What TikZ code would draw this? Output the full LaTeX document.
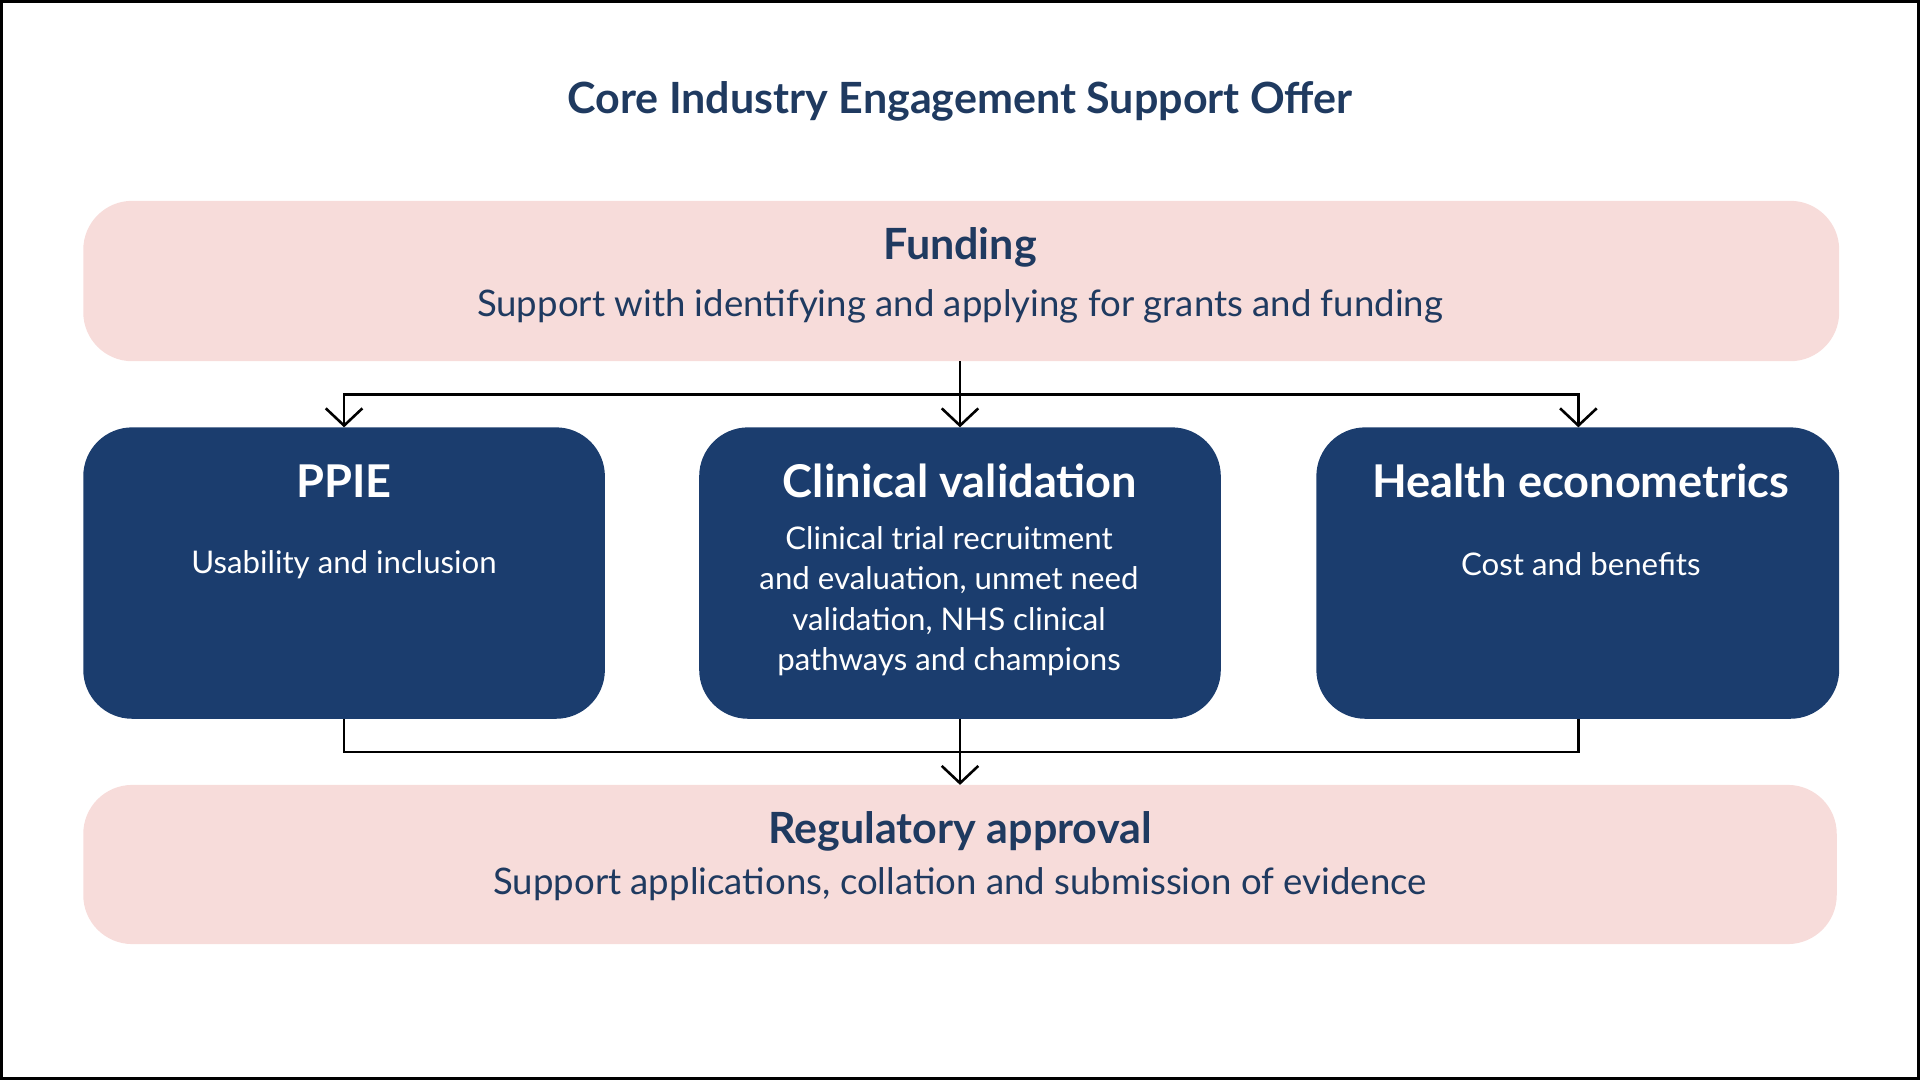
\documentclass[tikz,border=0pt]{standalone}
\usepackage{fontspec}
\setmainfont{Lato}
\usetikzlibrary{arrows.meta}
\definecolor{navy}{HTML}{1B3D6E}
\definecolor{titlec}{HTML}{1F3A60}
\definecolor{pink}{HTML}{F7DCDA}
\begin{document}
\begin{tikzpicture}[x=0.02cm,y=-0.02cm,
  pinkbox/.style={fill=pink,draw=none,rounded corners=0.8cm},
  bluebox/.style={fill=navy,draw=none,rounded corners=0.8cm},
  conn/.style={line width=1.2pt,black},
  arr/.style={conn,-{Straight Barb[length=8pt,width=17pt,line width=1.2pt]}},
  bh/.style={text=white,font=\bfseries\fontsize{21}{25}\selectfont},
  bt/.style={text=white,font=\fontsize{14.5}{18.7}\selectfont,align=center}]
\useasboundingbox (0,0) rectangle (1568,882);
\draw[line width=2pt] (1,1) rectangle (1567,881);
\node[text=titlec,font=\bfseries\fontsize{20}{24}\selectfont] (title) at (784,83) {Core Industry Engagement Support Offer};
\path[pinkbox] (68,164) rectangle (1502,295);
\node[text=titlec,font=\bfseries\fontsize{20}{24}\selectfont] (fund) at (784,202) {Funding};
\node[text=titlec,font=\fontsize{17}{20}\selectfont] (fundt) at (784,250) {Support with identifying and applying for grants and funding};
\coordinate (fb) at (784,295);
\path[bluebox] (68,349) rectangle (494,587);
\path[bluebox] (571,349) rectangle (997,587);
\path[bluebox] (1075,349) rectangle (1502,587);
\coordinate (p1) at (281,349); \coordinate (p2) at (784,349); \coordinate (p3) at (1289,349);
\coordinate (q1) at (281,587); \coordinate (q2) at (784,587); \coordinate (q3) at (1289,587);
\node[bh] (h1) at (281,393) {PPIE};
\node[bh] (h2) at (784,393) {Clinical validation};
\node[bh] (h3) at (1291,393) {Health econometrics};
\node[bt] (t1) at (281,461) {Usability and inclusion};
\node[bt] (t2) at (775,491) {Clinical trial recruitment\\and evaluation, unmet need\\validation, NHS clinical\\pathways and champions};
\node[bt] (t3) at (1291,461) {Cost and benefits};
\path[pinkbox] (68,641) rectangle (1500,771);
\coordinate (rt) at (784,641);
\node[text=titlec,font=\bfseries\fontsize{20}{24}\selectfont] (reg) at (784,679) {Regulatory approval};
\node[text=titlec,font=\fontsize{17}{20}\selectfont] (regt) at (784,722) {Support applications, collation and submission of evidence};
\draw[arr] (fb) -- (p2);
\draw[conn] (281,322) -- (1289,322);
\draw[arr] (281,321) -- (p1);
\draw[arr] (1289,321) -- (p3);
\draw[conn] (q1) -- (281,614) -- (1289,614) -- (q3);
\draw[arr] (q2) -- (rt);
\end{tikzpicture}
\end{document}
